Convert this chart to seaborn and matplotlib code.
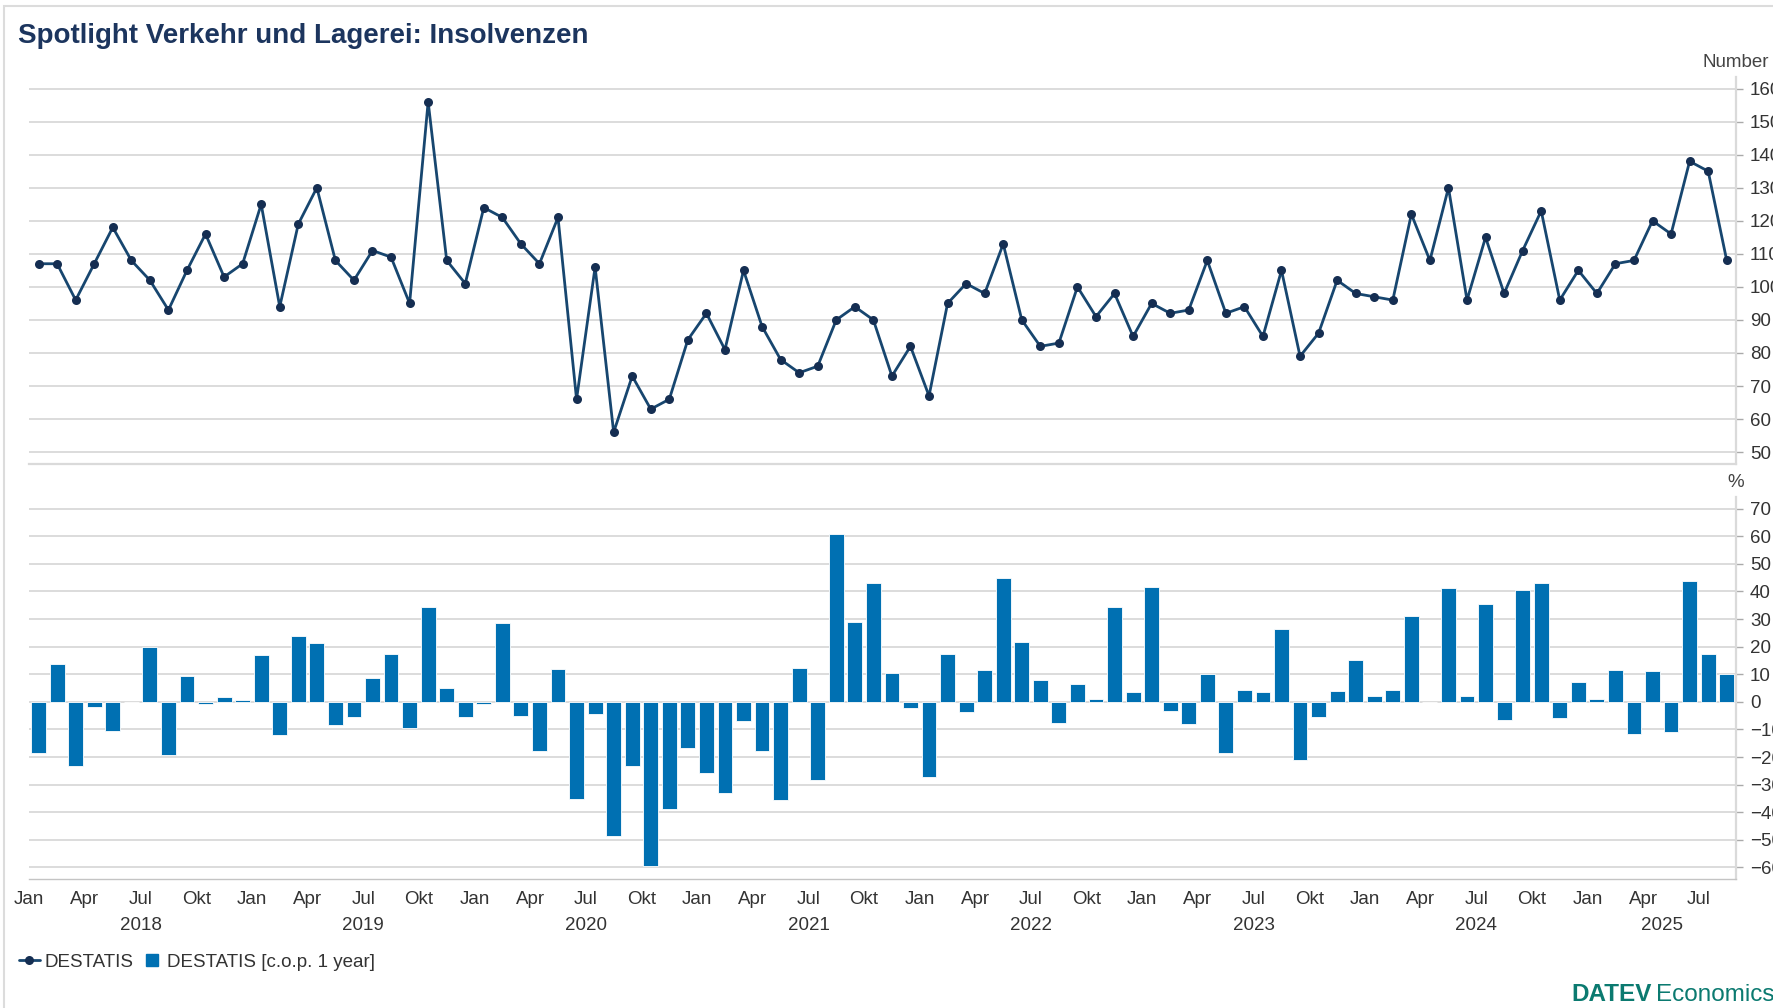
import numpy as np
import matplotlib
matplotlib.use("Agg")
import matplotlib.pyplot as plt
from matplotlib.lines import Line2D
from matplotlib.patches import Rectangle
import seaborn as sns

# monthly insolvencies, Jan 2018 .. Aug 2025
counts = [
    107, 107, 96, 107, 118, 108, 102, 93, 105, 116, 103, 107,   # 2018
    125, 94, 119, 130, 108, 102, 111, 109, 95, 156, 108, 101,   # 2019
    124, 121, 113, 107, 121, 66, 106, 56, 73, 63, 66, 84,       # 2020
    92, 81, 105, 88, 78, 74, 76, 90, 94, 90, 73, 82,            # 2021
    67, 95, 101, 98, 113, 90, 82, 83, 100, 91, 98, 85,          # 2022
    95, 92, 93, 108, 92, 94, 85, 105, 79, 86, 102, 98,          # 2023
    97, 96, 122, 108, 130, 96, 115, 98, 111, 123, 96, 105,      # 2024
    98, 107, 108, 120, 116, 138, 135, 108,                      # 2025
]

# change on previous year, %
yoy = [
    -18.4, 13.8, -23.3, -1.9, -10.7, 0.0, 20.0, -19.3, 9.2, -0.8, 1.9, 0.8,
    16.8, -12.1, 24.0, 21.5, -8.5, -5.6, 8.8, 17.2, -9.5, 34.5, 4.9, -5.6,
    -0.8, 28.7, -5.0, -17.7, 12.0, -35.3, -4.5, -48.6, -23.2, -59.6, -38.9, -16.8,
    -25.8, -33.1, -7.1, -17.8, -35.5, 12.1, -28.3, 60.7, 28.8, 42.9, 10.6, -2.4,
    -27.2, 17.3, -3.8, 11.4, 44.9, 21.6, 7.9, -7.8, 6.4, 1.1, 34.2, 3.7,
    41.8, -3.2, -7.9, 10.2, -18.6, 4.4, 3.7, 26.5, -21.0, -5.5, 4.1, 15.3,
    2.1, 4.3, 31.2, 0.0, 41.3, 2.1, 35.3, -6.7, 40.5, 43.0, -5.9, 7.1,
    1.0, 11.5, -11.5, 11.1, -10.8, 43.8, 17.4, 10.2,
]

month_names = ["Jan", "Apr", "Jul", "Okt"]
years = [2018, 2019, 2020, 2021, 2022, 2023, 2024, 2025]
series_names = ["DESTATIS", "DESTATIS [c.o.p. 1 year]"]

W, H = 1774, 1008
line_color = "#17466f"
dot_color = "#152e52"
bar_color = "#0070b2"
grid_color = "#d6d6d6"
text_color = "#333333"
fs = 13.5

sns.set_theme(style="white")
plt.rcParams["font.family"] = ["Liberation Sans", "DejaVu Sans"]

n = len(counts)
idx = np.arange(n)

fig = plt.figure(figsize=(W / 100, H / 100), dpi=100)
left = 29.3 / W
width = (1736 - 29.3) / W
ax1 = fig.add_axes([left, (H - 464) / H, width, (464 - 76.7) / H])
ax2 = fig.add_axes([left, (H - 879) / H, width, (879 - 496.7) / H])

# top: counts
sns.lineplot(x=idx, y=counts, ax=ax1, color=line_color, linewidth=2,
             marker="o", markersize=6.5, markeredgewidth=0,
             markerfacecolor=dot_color, label=series_names[0])
ax1.get_legend().remove()
ax1.set_xlim(-0.5, n - 0.5)
ax1.set_ylim(46.4, 163.6)
ax1.set_yticks(range(50, 161, 10))
ax1.set_xticks([])

# bottom: yoy bars
sns.barplot(x=idx, y=yoy, ax=ax2, color=bar_color, saturation=1, width=0.8,
            edgecolor="white", linewidth=0.6)
ax2.set_xlim(-0.5, n - 0.5)
ax2.set_ylim(-64.2, 74.35)
ax2.set_yticks(range(-60, 71, 10))

quarter_pos = [i - 0.5 for i in range(0, n, 3)]
quarter_lab = [month_names[(i // 3) % 4] for i in range(0, n, 3)]
ax2.set_xticks(quarter_pos, quarter_lab)
ax2.set_xticks([i - 0.5 for i in range(0, n, 12)], minor=True)
ax2.xaxis.remove_overlapping_locs = False
ax2.tick_params(axis="x", which="major", length=3, width=1, color="#b0b0b0",
                labelsize=fs, labelcolor=text_color, pad=5.5)
ax2.tick_params(axis="x", which="minor", length=6, width=1, color="#b0b0b0")

for k, yr in enumerate(years):
    start, end = 12 * k, min(12 * k + 12, n)
    ax2.annotate(str(yr), xy=((start + end) / 2 - 0.5, 0),
                 xycoords=("data", "axes fraction"), xytext=(0, -33.8),
                 textcoords="offset points", ha="center", va="center",
                 fontsize=fs, color=text_color)

for ax, unit in ((ax1, "Number"), (ax2, "%")):
    ax.set_xlabel("")
    ax.set_ylabel("")
    ax.yaxis.tick_right()
    ax.tick_params(axis="y", length=5, width=1, color="#aaaaaa",
                   labelsize=fs, labelcolor=text_color, pad=5)
    ax.yaxis.grid(True, color=grid_color, linewidth=1.2)
    ax.set_axisbelow(True)
    ax.spines["left"].set_visible(False)
    ax.spines["top"].set_visible(False)
    ax.spines["right"].set_color("#dadada")
    ax.spines["right"].set_linewidth(1.6)
    ax.annotate(unit, xy=(1, 1), xycoords="axes fraction", xytext=(0, 10),
                textcoords="offset points", ha="center", va="center",
                fontsize=fs, color="#444444")

ax1.spines["bottom"].set_color("#dadada")
ax1.spines["bottom"].set_linewidth(1.6)
ax2.spines["bottom"].set_color("#c4c4c4")
ax2.spines["bottom"].set_linewidth(1)

# title, frame, legend, logo
fig.text(18 / W, 1 - 43 / H, "Spotlight Verkehr und Lagerei: Insolvenzen",
         fontsize=20, fontweight="bold", color="#1c355e", va="baseline")
fig.patches.append(Rectangle((4.5 / W, -0.05), 1.1, (H - 5.5) / H + 0.05,
                             transform=fig.transFigure, fill=False,
                             edgecolor="#dcdcdc", linewidth=1.5))

handles = [
    Line2D([0], [0], color=line_color, lw=2, marker="o", markersize=6.5,
           markerfacecolor=dot_color, markeredgewidth=0),
    Line2D([0], [0], ls="", marker="s", markersize=9, color=bar_color),
]
leg = fig.legend(handles, series_names, loc="center left",
                 bbox_to_anchor=(19 / W, 1 - 962 / H), ncol=2, frameon=False,
                 fontsize=fs, handlelength=1.1, handletextpad=0.25,
                 columnspacing=0.45, borderpad=0, borderaxespad=0)
for t in leg.get_texts():
    t.set_color(text_color)

fig.text(1571 / W, 1 - 1001 / H, "DATEV", fontsize=17.5, fontweight="bold",
         color="#0b7a70", va="baseline")
fig.text(1656 / W, 1 - 1001 / H, "Economics", fontsize=17.5,
         color="#0b7a70", va="baseline")

fig.savefig("out.png", dpi=100)
